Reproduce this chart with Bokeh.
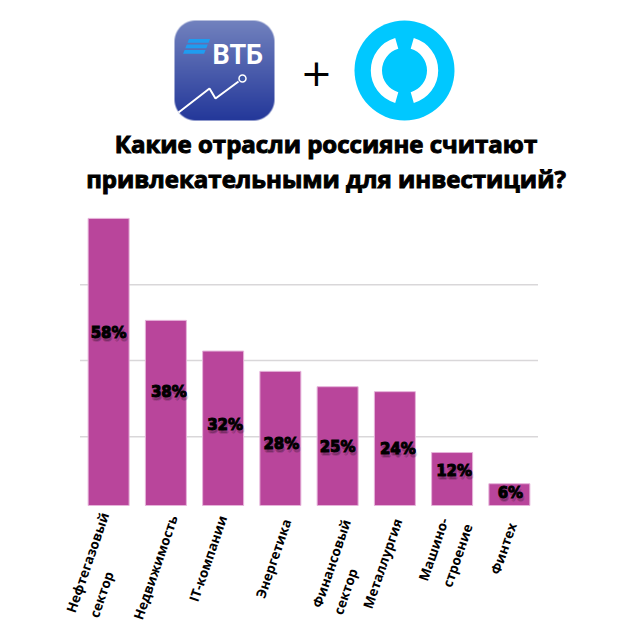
import numpy as np
from bokeh.plotting import figure
from bokeh.models import Range1d
from bokeh.core.properties import value
from bokeh.embed import file_html
from bokeh.resources import INLINE

# ---- data ----
categories = ["Нефтегазовый\nсектор", "Недвижимость", "IT-компании", "Энергетика",
              "Финансовый\nсектор", "Металлургия", "Машино-\nстроение", "Финтех"]
percent_values = [58, 38, 32, 28, 25, 24, 12, 6]
# bar heights as actually drawn, in the chart's axis units (they do not quite track the labels)
bar_heights = [58.0, 37.4, 31.2, 27.1, 24.0, 23.0, 10.7, 4.4]
gridlines = [13.9, 29.3, 44.6]
title_lines = ["Какие отрасли россияне считают", "привлекательными для инвестиций?"]

# ---- layout (page pixels) ----
SIZE = 622
FRAME_L, FRAME_R, BASE_Y = 79.5, 537.5, 505
SLOT = (FRAME_R - FRAME_L) / len(categories)
PX_PER_UNIT = 4.95
label_y_px = [332, 391, 424, 443, 446, 448, 470, 492]
label_dx_px = [0, 3, 2, 1, 0, 3, 2, 1]
# centre of each written line of the category labels, in reading order
cat_line_px = [(87, 562), (101, 594), (155, 567), (207.5, 558), (273, 558),
               (331, 563), (345, 591), (382, 563), (433, 549), (457, 555), (503, 548)]


def Y(px):
    return 626 - px


p = figure(width=SIZE, height=SIZE, output_backend="svg", toolbar_location=None,
           x_range=Range1d(0, SIZE), y_range=Range1d(Y(SIZE), Y(0)),
           min_border=0, min_border_left=0, min_border_right=0, min_border_top=0, min_border_bottom=0,
           x_axis_type=None, y_axis_type=None)
p.grid.visible = False
p.outline_line_color = None
p.extra_x_ranges["slot"] = Range1d((0 - FRAME_L) / SLOT, (SIZE - FRAME_L) / SLOT)
p.extra_y_ranges["pct"] = Range1d((BASE_Y - SIZE) / PX_PER_UNIT, BASE_Y / PX_PER_UNIT)

# ---- logos ----
N = 100
yy, xx = np.mgrid[0:N, 0:N]
cx = np.abs(xx + 0.5 - N / 2)
cy = np.abs(yy + 0.5 - N / 2)
R = 21
d = np.hypot(np.clip(cx - (N / 2 - R), 0, None), np.clip(cy - (N / 2 - R), 0, None))
alpha = np.clip(R - d + 0.5, 0, 1)
t = (yy + 0.5) / N  # 0 at bottom row
top_c, bot_c = np.array([0x72, 0x82, 0xbe]), np.array([0x24, 0x38, 0x9a])
img = np.zeros((N, N), dtype=np.uint32)
view = img.view(np.uint8).reshape((N, N, 4))
for k in range(3):
    view[:, :, k] = (bot_c[k] + (top_c[k] - bot_c[k]) * t).astype(np.uint8)
view[:, :, 3] = (alpha * 255).astype(np.uint8)
p.image_rgba(image=[img], x=[174], y=[Y(120)], dw=[100], dh=[100])

for top in (38.5, 44, 49.5):
    s = (top - 38.5) * .4
    p.patch([188.5 - s, 209.5 - s, 208 - s, 187 - s],
            [Y(top), Y(top), Y(top + 3.8), Y(top + 3.8)], color="#1f9cf0", line_width=0)
p.text([212], [Y(54)], text=["ВТБ"], text_font=value("Roboto"), text_font_style="bold", text_font_size="27px",
       text_color="white", text_align="left", text_baseline="middle")
p.line([178, 209, 215, 238], [Y(112), Y(88), Y(98), Y(81)], line_color="white", line_width=2)
p.scatter([242], [Y(78)], size=7, marker="circle", fill_color="#3f58a8", line_color="white", line_width=1.5)

p.text([316], [Y(72)], text=["+"], text_font=value("DejaVu Sans"), text_font_size="38px",
       text_color="black", text_align="center", text_baseline="middle")

p.scatter([404], [Y(70)], size=100, marker="circle", fill_color="#00c8ff", line_color=None)
RAD = np.pi / 180
for a0, a1 in ((106, 254), (-74, 74)):
    p.annular_wedge([404], [Y(70)], inner_radius=22.5, outer_radius=33.7, start_angle=a0 * RAD, end_angle=a1 * RAD,
                    fill_color="white", line_color=None)

# ---- title ----
for line, py in zip(title_lines, (143, 178)):
    p.text([325.5], [Y(py)], text=[line], text_font=value("Open Sans"), text_font_style="bold", text_font_size="24px",
           text_color="black", text_outline_color="black", text_align="center", text_baseline="middle")

# ---- chart ----
slots = [i + 0.5 for i in range(len(categories))]
p.segment([0] * len(gridlines), gridlines, [len(categories)] * len(gridlines), gridlines,
          x_range_name="slot", y_range_name="pct", line_color="#d9d7d9", line_width=1.5)
p.vbar(x=slots, top=bar_heights, bottom=0, width=0.716, x_range_name="slot", y_range_name="pct",
       fill_color="#b9459b", line_color="#e6b4da", line_width=1)

label_x = [s + dx / SLOT for s, dx in zip(slots, label_dx_px)]
label_y = [(BASE_Y - py) / PX_PER_UNIT for py in label_y_px]
labels = [f"{v}%" for v in percent_values]
for off, a in (((1, 4), .12), ((0, 3), .14), ((2, 3), .12)):
    p.text(label_x, label_y, text=labels, x_range_name="slot", y_range_name="pct", x_offset=off[0], y_offset=off[1],
           text_font=value("DejaVu Sans"), text_font_style="bold", text_font_size="15px", text_color="black",
           text_alpha=a, text_align="center", text_baseline="middle")
p.text(label_x, label_y, text=labels, x_range_name="slot", y_range_name="pct",
       text_font=value("DejaVu Sans"), text_font_style="bold", text_font_size="15px", text_color="black",
       text_outline_color="black", text_align="center", text_baseline="middle")

cat_lines = [line for c in categories for line in c.split("\n")]
p.text([c[0] for c in cat_line_px], [Y(c[1]) for c in cat_line_px], text=cat_lines,
       angle=71 * RAD, text_font=value("Open Sans"), text_font_style="bold", text_font_size="13.5px",
       text_color="black", text_align="center", text_baseline="middle")

open("out.html", "w").write(file_html(p, INLINE))
